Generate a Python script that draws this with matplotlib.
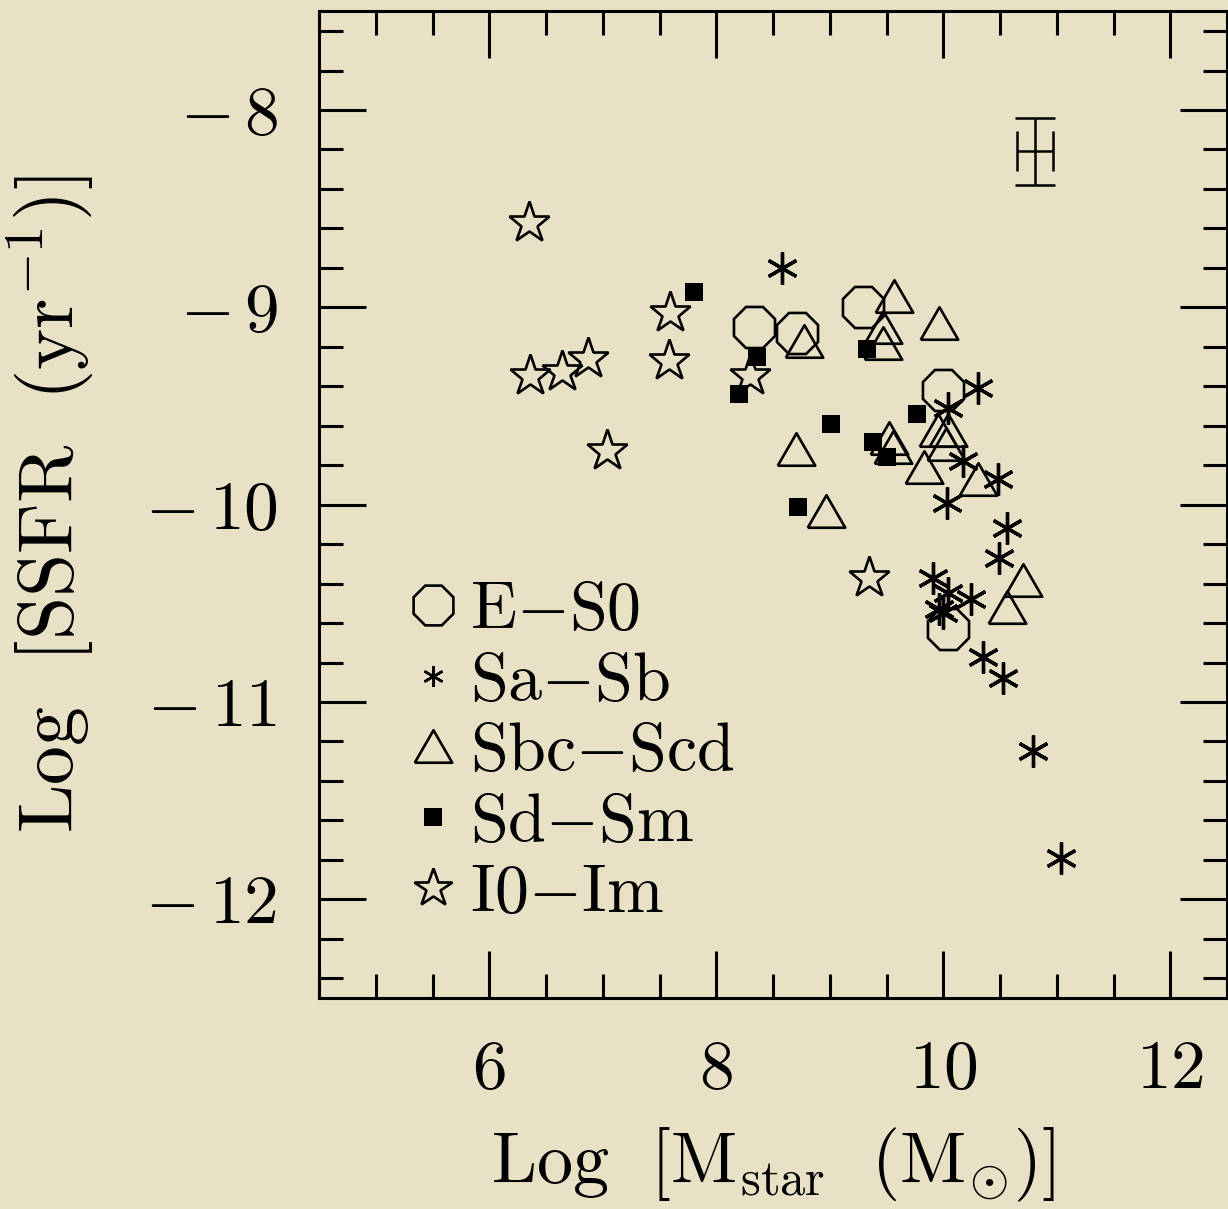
import matplotlib
matplotlib.use('Agg')
import matplotlib.pyplot as plt
from matplotlib.lines import Line2D
from matplotlib.ticker import MultipleLocator, FixedLocator, FuncFormatter

plt.rcParams['mathtext.fontset'] = 'cm'
plt.rcParams['font.family'] = ['cmr10', 'DejaVu Serif']

# E-S0 (circles)
es0_x = [8.33, 8.71, 9.29, 10.00, 10.04]
es0_y = [-9.10, -9.13, -9.00, -9.42, -10.63]

# Sa-Sb (asterisks)
sab_x = [8.58, 10.31, 10.04, 10.17, 10.48, 10.03, 10.56, 10.49, 9.91, 10.04,
         10.24, 9.96, 10.00, 10.35, 10.53, 10.79, 11.04]
sab_y = [-8.80, -9.41, -9.51, -9.78, -9.87, -9.99, -10.12, -10.27, -10.37, -10.45,
         -10.48, -10.53, -10.55, -10.77, -10.88, -11.25, -11.79]

# Sbc-Scd (triangles)
sbc_x = [9.57, 9.96, 8.77, 9.47, 9.47, 8.70, 8.97, 9.52, 9.56, 9.83,
         9.95, 10.04, 10.02, 10.31, 10.70, 10.56]
sbc_y = [-8.94, -9.08, -9.17, -9.10, -9.18, -9.72, -10.03, -9.66, -9.71, -9.81,
         -9.62, -9.62, -9.69, -9.87, -10.38, -10.52]

# Sd-Sm (filled squares)
sdm_x = [7.80, 8.36, 8.20, 8.72, 9.33, 9.01, 9.77, 9.38, 9.50]
sdm_y = [-8.92, -9.25, -9.44, -10.01, -9.21, -9.59, -9.54, -9.68, -9.76]

# I0-Im (open stars)
irr_x = [6.35, 7.59, 6.87, 6.64, 6.36, 7.58, 7.04, 8.30, 9.35]
irr_y = [-8.57, -9.03, -9.26, -9.33, -9.35, -9.27, -9.73, -9.35, -10.37]

# typical error bar
err_x, err_y = 10.81, -8.21
err_dx, err_dy = 0.16, 0.17

bg = '#e8e1c5'
fig = plt.figure(figsize=(12.28, 12.09), dpi=100, facecolor=bg)
ax = fig.add_axes([0.2598, 0.1745, 0.7394, 0.8161], facecolor=bg)

octagon = (8, 0, 22.5)
tri = [(-1, -0.866), (1, -0.866), (0, 0.866), (-1, -0.866)]
aster = (6, 2, 0)
lw = 1.9

ax.plot(es0_x, es0_y, ls='none', marker=octagon, ms=32, mfc='none', mec='k', mew=lw)
ax.plot(sab_x, sab_y, ls='none', marker=aster, ms=23, mec='k', mew=2.4)
ax.plot(sbc_x, sbc_y, ls='none', marker=tri, ms=27, mfc='none', mec='k', mew=lw)
ax.plot(sdm_x, sdm_y, ls='none', marker='s', ms=13.5, mfc='k', mec='k', mew=0)
ax.plot(irr_x, irr_y, ls='none', marker='*', ms=31, mfc='none', mec='k', mew=lw)

ax.errorbar([err_x], [err_y], xerr=[err_dx], yerr=[err_dy], fmt='none',
            ecolor='k', elinewidth=1.8, capsize=14.5, capthick=1.8)

ax.set_xlim(4.5, 12.5)
ax.set_ylim(-12.5, -7.5)

ax.xaxis.set_major_locator(FixedLocator([6, 8, 10, 12]))
ax.xaxis.set_minor_locator(MultipleLocator(0.5))
ax.yaxis.set_major_locator(FixedLocator([-12, -11, -10, -9, -8]))
ax.yaxis.set_minor_locator(MultipleLocator(0.2))
ax.xaxis.set_major_formatter(FuncFormatter(lambda v, p: r'$%d$' % v))
ax.yaxis.set_major_formatter(FuncFormatter(lambda v, p: r'$-\,%d$' % abs(v)))

ax.tick_params(which='both', direction='in', top=True, right=True, width=2.2,
               labelsize=50, pad=30)
ax.tick_params(which='major', length=34)
ax.tick_params(which='minor', length=17)
for s in ax.spines.values():
    s.set_linewidth(2.2)

ax.set_xlabel(r'$\mathrm{Log}\ \ [\mathrm{M_{star}}\ \ (\mathrm{M_{\odot}})]$', fontsize=52, labelpad=18)
ax.set_ylabel(r'$\mathrm{Log}\ \ [\mathrm{SSFR}\ \ (\mathrm{yr^{-1}})]$', fontsize=56, labelpad=34)

handles = [
    Line2D([], [], ls='none', marker=octagon, ms=31, mfc='none', mec='k', mew=lw),
    Line2D([], [], ls='none', marker=aster, ms=15, mec='k', mew=1.8),
    Line2D([], [], ls='none', marker=tri, ms=27, mfc='none', mec='k', mew=lw),
    Line2D([], [], ls='none', marker='s', ms=13.5, mfc='k', mec='k', mew=0),
    Line2D([], [], ls='none', marker='*', ms=29, mfc='none', mec='k', mew=lw),
]
labels = [r'$\mathrm{E{-}S0}$', r'$\mathrm{Sa{-}Sb}$', r'$\mathrm{Sbc{-}Scd}$',
          r'$\mathrm{Sd{-}Sm}$', r'$\mathrm{I0{-}Im}$']
ax.legend(handles, labels, loc='upper left', bbox_to_anchor=(0.1046, 0.423),
          frameon=False, fontsize=49, handlelength=0.55, handletextpad=0.28,
          labelspacing=0.14, borderpad=0, borderaxespad=0)

fig.savefig('out.png', dpi=100, facecolor=bg)
